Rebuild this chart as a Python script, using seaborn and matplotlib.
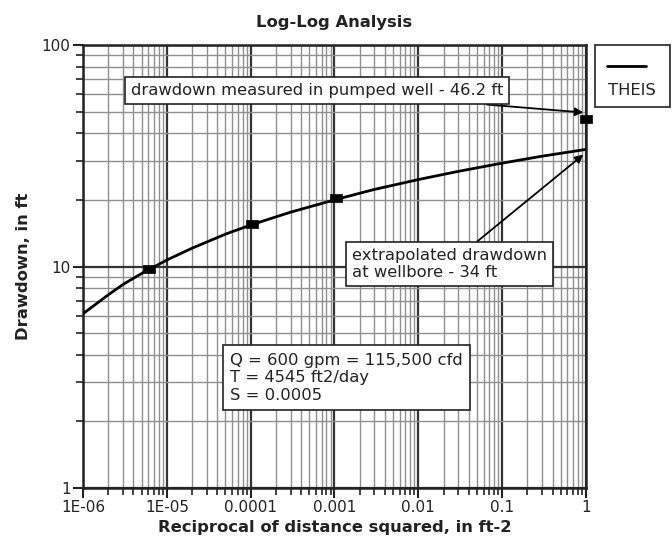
import numpy as np
import pandas as pd
import matplotlib
matplotlib.use('Agg')
import matplotlib.pyplot as plt
import seaborn as sns
from matplotlib.patches import Rectangle
from matplotlib.lines import Line2D

# Theis curve
curve_x = [1e-6, 2e-6, 3e-6, 5e-6, 1e-5, 2e-5, 5e-5, 1e-4, 3e-4, 1e-3, 3e-3, 1e-2, 3e-2, 1e-1, 3e-1, 1.0]
curve_y = [6.12, 7.45, 8.3, 9.3, 10.7, 12.1, 14.0, 15.4, 17.6, 20.0, 22.3, 24.7, 26.9, 29.3, 31.5, 33.8]

# observed drawdowns
obs_x = [6.2e-6, 1.03e-4, 1.04e-3, 1.0]
obs_y = [9.7, 15.6, 20.3, 46.2]

x_ticks = [1e-6, 1e-5, 1e-4, 1e-3, 1e-2, 1e-1, 1]
x_labels = ['1E-06', '1E-05', '0.0001', '0.001', '0.01', '0.1', '1']
y_ticks = [1, 10, 100]
y_labels = ['1', '10', '100']

sns.set_style('ticks')
plt.rcParams['font.family'] = ['DejaVu Sans']

fig = plt.figure(figsize=(6.72, 5.43), dpi=100)
ax = fig.add_axes([0.1235, 0.1013, 0.7485, 0.8157])

curve = pd.DataFrame({'x': curve_x, 'y': curve_y})
obs = pd.DataFrame({'x': obs_x, 'y': obs_y})
rect_marker = [(-1, -0.72), (1, -0.72), (1, 0.72), (-1, 0.72), (-1, -0.72)]
sns.lineplot(data=curve, x='x', y='y', color='black', linewidth=2, ax=ax, zorder=4)
sns.scatterplot(data=obs, x='x', y='y', color='black', marker=rect_marker, s=65,
                edgecolor='black', linewidth=0.5, ax=ax, zorder=5, clip_on=False)

ax.set_xscale('log')
ax.set_yscale('log')
ax.set_xlim(1e-6, 1)
ax.set_ylim(1, 100)
ax.set_xticks(x_ticks)
ax.set_xticklabels(x_labels, fontsize=11)
ax.set_yticks(y_ticks)
ax.set_yticklabels(y_labels, fontsize=11)
ax.xaxis.set_minor_locator(matplotlib.ticker.LogLocator(base=10, subs=np.arange(2, 10)))
ax.yaxis.set_minor_locator(matplotlib.ticker.LogLocator(base=10, subs=np.arange(2, 10)))
ax.xaxis.set_minor_formatter(matplotlib.ticker.NullFormatter())
ax.yaxis.set_minor_formatter(matplotlib.ticker.NullFormatter())
ax.tick_params(which='major', length=7, width=1.5, color='#222222', pad=2, labelcolor='#222222')
ax.tick_params(which='minor', length=5, width=1.2, color='#222222')
ax.grid(which='major', color='#333333', linewidth=1.6)
ax.grid(which='minor', color='#8f8f8f', linewidth=1.0)
for sp in ax.spines.values():
    sp.set_linewidth(1.8)
    sp.set_color('#222222')
    sp.set_visible(True)

ax.set_title('Log-Log Analysis', fontsize=11.8, fontweight='bold', pad=13, color='#222222')
ax.set_xlabel('Reciprocal of distance squared, in ft-2', fontsize=11.8, fontweight='bold',
              labelpad=3, color='#222222')
ax.set_ylabel('Drawdown, in ft', fontsize=11.8, fontweight='bold', labelpad=8, color='#222222')

box = dict(boxstyle='square,pad=0.36', facecolor='white', edgecolor='#222222', linewidth=1.2)
arrow = dict(arrowstyle='-|>', color='black', linewidth=1.3, mutation_scale=12, shrinkA=0, shrinkB=0)

ax.annotate('drawdown measured in pumped well - 46.2 ft', xy=(0.93, 49.6), xytext=(3.74e-6, 62.3),
            fontsize=11.8, va='center', ha='left', bbox=box, arrowprops=arrow, zorder=6,
            color='#222222')
ax.annotate('extrapolated drawdown\nat wellbore - 34 ft', xy=(0.93, 32.0), xytext=(1.62e-3, 10.26),
            fontsize=11.8, va='center', ha='left', bbox=box, arrowprops=arrow, zorder=6,
            linespacing=1.2, color='#222222')
ax.text(5.67e-5, 3.14, 'Q = 600 gpm = 115,500 cfd\nT = 4545 ft2/day\nS = 0.0005',
        fontsize=11.8, va='center', ha='left', color='#222222',
        bbox=dict(boxstyle='square,pad=0.45', facecolor='white', edgecolor='#222222', linewidth=1.2),
        linespacing=1.22, zorder=6)

# legend box on the right
fig.add_artist(Rectangle((0.885, 0.803), 0.1116, 0.114, transform=fig.transFigure,
                         facecolor='white', edgecolor='#222222', linewidth=1.2))
fig.add_artist(Line2D([0.903, 0.961], [0.8785, 0.8785], transform=fig.transFigure,
                      color='black', linewidth=2))
fig.text(0.941, 0.834, 'THEIS', fontsize=11.8, ha='center', va='center', color='#222222')

fig.savefig('out.png', dpi=100)
